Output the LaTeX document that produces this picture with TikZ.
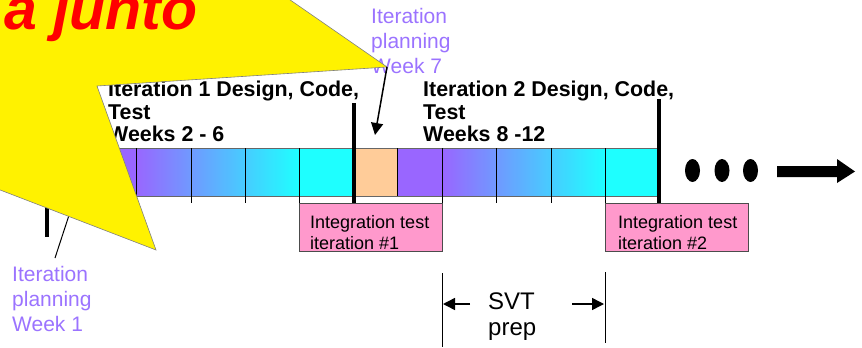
\documentclass[tikz,border=0pt]{standalone}
\usepackage{fontspec}
\setmainfont{Liberation Sans}
\usetikzlibrary{arrows.meta, calc}

\definecolor{planpurple}{RGB}{155,115,255}
\definecolor{cellpurple}{RGB}{153,102,255}
\definecolor{cellcyan}{RGB}{30,255,255}
\definecolor{cellorange}{RGB}{255,204,153}
\definecolor{testpink}{RGB}{255,153,204}

\begin{document}
\begin{tikzpicture}[x=1pt, y=-1pt,
    plan/.style={anchor=north west, inner sep=0pt, align=left, text=planpurple,
        font=\fontsize{21}{25}\selectfont},
    iter/.style={anchor=north west, inner sep=0pt, align=left,
        font=\fontsize{21.4}{22.5}\selectfont\bfseries},
    testbox/.style={anchor=north west, draw=black!70, fill=testpink,
        minimum width=143pt, minimum height=48pt, inner sep=0pt},
    testtext/.style={anchor=north west, inner sep=0pt, align=left,
        font=\fontsize{18}{21.3}\selectfont},
    divider/.style={line width=0.9pt},
    milestone/.style={line width=4.5pt},
    tip/.style={line width=1.5pt, -{Triangle[length=12pt, width=12pt]}}]
    \useasboundingbox (0,0) rectangle (862,348);
    \clip (0,0) rectangle (862,348);

    % the week bar
    \fill[cellpurple] (82,148) rectangle (136,196);
    \shade[left color=cellpurple, right color=cellcyan] (136,148) rectangle (299,196);
    \fill[cellcyan] (299,148) rectangle (352,196);
    \fill[cellorange] (352,148) rectangle (397,196);
    \fill[cellpurple] (397,148) rectangle (442,196);
    \shade[left color=cellpurple, right color=cellcyan] (442,148) rectangle (605,196);
    \fill[cellcyan] (605,148) rectangle (657,196);
    \draw[black!60, line width=0.7pt] (82,148) -- (657,148) (82,196) -- (657,196);
    \foreach \x in {136, 397}
        \draw[divider] (\x,148) -- (\x,196);
    \foreach \x in {191, 245, 299, 442, 496, 551, 605}
        \draw[divider] (\x,148) -- (\x,203);

    % integration tests
    \node[testbox] (T1) at (299,203) {};
    \node[testtext] (T1text) at ([shift={(11,12)}]T1.north west) {Integration test\\iteration \#1};
    \node[testbox] (T2) at (605,203) {};
    \node[testtext] (T2text) at ([shift={(13,12)}]T2.north west) {Integration test\\iteration \#2};

    \draw[milestone] (354,103) -- (354,203);
    \draw[milestone] (659,99) -- (659,203);

    % and so on
    \foreach \x in {692.5, 722, 750.5}
        \fill (\x,170.5) ellipse (7.5 and 11.5);
    \fill (777,166) -- (837,166) -- (837,159) -- (855,171.5) -- (837,183)
        -- (837,177) -- (777,177) -- cycle;

    % SVT prep
    \draw[divider] (442,273) -- (442,347);
    \draw[divider] (605,272) -- (605,343);
    \node[anchor=north west, inner sep=0pt, align=left,
        font=\fontsize{24}{26}\selectfont] (S) at (488,293) {SVT\\prep};
    \coordinate (Sa) at (470,304);
    \coordinate (Sb) at (443,304);
    \coordinate (Sc) at (572,304);
    \coordinate (Sd) at (604,304);
    \draw[tip] (Sa) -- (Sb);
    \draw[tip] (Sc) -- (Sd);

    % iteration planning week 1
    \node[plan] (P1) at (12,266) {Iteration\\planning\\Week 1};
    \coordinate (P1a) at (55,258);
    \coordinate (P1b) at (74,200);
    \draw[line width=1pt] (P1a) -- (P1b);
    \draw[milestone] (47,150) -- (47,237);

    \node[iter] (I1) at (108,81) {Iteration 1 Design, Code,\\Test\\Weeks 2 - 6};
    \node[iter] (I2) at (423,81) {Iteration 2 Design, Code,\\Test\\Weeks 8 -12};
    \node[plan] (P7) at (371,8) {Iteration\\planning\\Week 7};

    % the callout on top
    \fill[yellow, draw=black!50, line width=0.6pt] (-5,-5) -- (283,-5) -- (387,67)
        -- (97,86) -- (156,250) -- (-5,188) -- cycle;
    \node[anchor=base west, inner sep=0pt, text=red,
        font=\fontsize{59}{64}\selectfont\bfseries\itshape] (J) at (4,29) {a junto};

    \coordinate (P7a) at (387,67);
    \coordinate (P7b) at (375,135);
    \draw[tip] (P7a) -- (P7b);
\end{tikzpicture}
\end{document}
